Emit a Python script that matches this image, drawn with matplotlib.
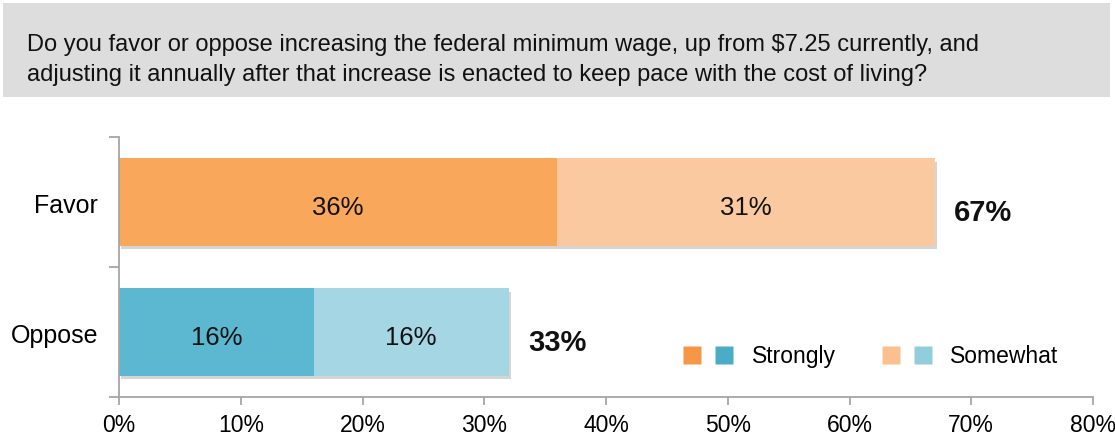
import matplotlib
matplotlib.use('Agg')
import matplotlib.pyplot as plt
import matplotlib.patheffects as pe
from matplotlib.lines import Line2D
from matplotlib.legend_handler import HandlerTuple
from matplotlib.patches import Rectangle

plt.rcParams['font.family'] = ['Liberation Sans', 'DejaVu Sans']

question = ('Do you favor or oppose increasing the federal minimum wage, up from $7.25 currently, and\n'
            'adjusting it annually after that increase is enacted to keep pace with the cost of living?')
categories = ['Oppose', 'Favor']
strongly = [16, 36]
somewhat = [16, 31]
totals = ['33%', '67%']
x_ticks = [0, 10, 20, 30, 40, 50, 60, 70, 80]

strong_colors = ['#5BB8D0', '#F9A75A']
some_colors = ['#A4D6E4', '#FBC9A0']
legend_strong = ['#F79646', '#4BACC6']
legend_some = ['#FAC090', '#92CDDC']

fig = plt.figure(figsize=(11.15, 4.42), dpi=100)

# grey question box
fig.patches.append(Rectangle((3 / 1115, 1 - 97 / 442), 1107 / 1115, 94 / 442,
                             transform=fig.transFigure, facecolor='#DDDDDD',
                             edgecolor='none', zorder=0))
fig.text(27 / 1115, 1 - 60 / 442, question, fontsize=17, va='center', ha='left',
         linespacing=1.45, color='#111111')

ax = fig.add_axes([119 / 1115, 45 / 442, 974 / 1115, 260 / 442])

shadow = [pe.SimplePatchShadow(offset=(1.5, -2.5), shadow_rgbFace='#888888', alpha=0.35),
          pe.Normal()]
y = range(len(categories))
ax.barh(y, strongly, height=0.67, color=strong_colors, path_effects=shadow, zorder=2)
ax.barh(y, somewhat, left=strongly, height=0.67, color=some_colors,
        path_effects=shadow, zorder=2)

for i in y:
    ax.text(strongly[i] / 2, i - 0.03, f'{strongly[i]}%', ha='center', va='center_baseline',
            fontsize=18.5, color='#111111', zorder=3)
    ax.text(strongly[i] + somewhat[i] / 2, i - 0.03, f'{somewhat[i]}%', ha='center',
            va='center_baseline', fontsize=18.5, color='#111111', zorder=3)
    end = strongly[i] + somewhat[i]
    ax.text(end + 1.6, i - 0.065, totals[i], ha='left', va='center_baseline', fontsize=21,
            fontweight='bold', color='#111111')

ax.set_xlim(0, 80)
ax.set_ylim(-0.5, 1.5)
ax.set_xticks(x_ticks)
ax.set_xticklabels([f'{t}%' for t in x_ticks])
ax.set_yticks([-0.5, 0.5, 1.5])
ax.set_yticklabels([])
ax.set_yticks([v - 0.015 for v in y], minor=True)
ax.set_yticklabels(categories, minor=True)
ax.tick_params(axis='y', which='minor', length=0, pad=15, labelsize=18)
ax.tick_params(axis='y', which='major', length=7, color='#A6A6A6', width=1.3)
ax.tick_params(axis='x', length=6, color='#A6A6A6', width=1.3, labelsize=16.5, pad=6)
for s in ['top', 'right']:
    ax.spines[s].set_visible(False)
for s in ['left', 'bottom']:
    ax.spines[s].set_color('#A6A6A6')
    ax.spines[s].set_linewidth(1.3)

handles = [
    (Line2D([], [], ls='', marker='s', ms=13, mec='none', mfc=legend_strong[0]),
     Line2D([], [], ls='', marker='s', ms=13, mec='none', mfc=legend_strong[1])),
    (Line2D([], [], ls='', marker='s', ms=13, mec='none', mfc=legend_some[0]),
     Line2D([], [], ls='', marker='s', ms=13, mec='none', mfc=legend_some[1])),
]
ax.legend(handles, ['Strongly', 'Somewhat'], handler_map={tuple: HandlerTuple(ndivide=None, pad=0.6)},
          loc='center', bbox_to_anchor=(0.772, 0.155), ncol=2, frameon=False,
          fontsize=16.5, handlelength=2.2, handletextpad=0.8, columnspacing=2.0)

fig.savefig('out.png', dpi=100)
